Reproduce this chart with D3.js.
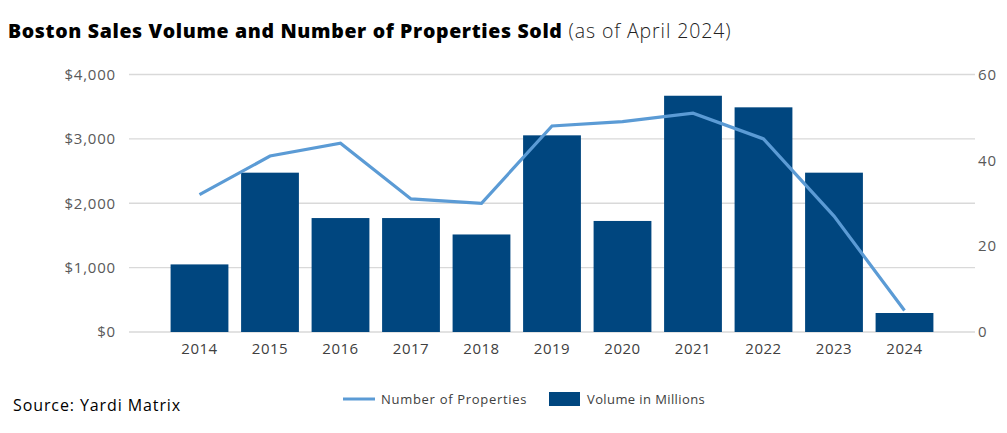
<!DOCTYPE html>
<html>
<head>
<meta charset="utf-8">
<script src="https://cdn.jsdelivr.net/npm/d3@7"></script>
<style>
  body { margin: 0; background: #fff; }
  text { font-family: "Open Sans", Lato, sans-serif; }
</style>
</head>
<body>
<div id="chart"></div>
<script>
// chart data
const years = ["2014", "2015", "2016", "2017", "2018", "2019", "2020", "2021", "2022", "2023", "2024"];
const volume = [1050, 2475, 1770, 1770, 1515, 3055, 1725, 3670, 3490, 2475, 295];
const properties = [32, 41, 44, 31, 30, 48, 49, 51, 45, 27, 5];
const leftTicks = [0, 1000, 2000, 3000, 4000];
const rightTicks = [0, 20, 40, 60];

const width = 1007, height = 433;
const plot = {left: 129, right: 975, top: 74.5, bottom: 332};

const svg = d3.select("#chart")
  .append("svg")
  .attr("width", width)
  .attr("height", height);

const x = d3.scaleBand()
  .domain(years)
  .range([plot.left, plot.right])
  .paddingInner(0.18)
  .paddingOuter(0.59);

const yLeft = d3.scaleLinear().domain([0, 4000]).range([plot.bottom, plot.top]);
const yRight = d3.scaleLinear().domain([0, 60]).range([plot.bottom, plot.top]);

// gridlines
svg.append("g")
  .selectAll("line")
  .data(leftTicks)
  .enter()
  .append("line")
  .attr("x1", plot.left)
  .attr("x2", plot.right)
  .attr("y1", d => yLeft(d))
  .attr("y2", d => yLeft(d))
  .attr("stroke", "#d9d9d9")
  .attr("stroke-width", 1.3);

// left axis
const leftAxis = svg.append("g")
  .attr("transform", `translate(${plot.left - 13},0)`)
  .call(d3.axisLeft(yLeft).tickValues(leftTicks).tickSize(0).tickPadding(0)
    .tickFormat(d => "$" + d3.format(",")(d)));
leftAxis.select(".domain").remove();
leftAxis.selectAll("text").attr("fill", "#595959")
  .style("font-size", "15px").style("letter-spacing", "0.8px");

// right axis
const rightAxis = svg.append("g")
  .attr("transform", `translate(${plot.right + 3},0)`)
  .call(d3.axisRight(yRight).tickValues(rightTicks).tickSize(0).tickPadding(0));
rightAxis.select(".domain").remove();
rightAxis.selectAll("text").attr("fill", "#595959")
  .style("font-size", "15px").style("letter-spacing", "0.8px");

// x axis
const xAxis = svg.append("g")
  .attr("transform", `translate(0,${plot.bottom + 8})`)
  .call(d3.axisBottom(x).tickSize(0).tickPadding(3));
xAxis.select(".domain").remove();
xAxis.selectAll("text").attr("fill", "#404040")
  .style("font-size", "15px").style("letter-spacing", "0.5px");

// bars
svg.append("g")
  .selectAll("rect")
  .data(years)
  .enter()
  .append("rect")
  .attr("x", d => x(d))
  .attr("width", x.bandwidth())
  .attr("y", (d, i) => yLeft(volume[i]))
  .attr("height", (d, i) => yLeft(0) - yLeft(volume[i]))
  .attr("fill", "#00467f");

// line
const line = d3.line()
  .x((d, i) => x(years[i]) + x.bandwidth() / 2)
  .y(d => yRight(d));

svg.append("path")
  .datum(properties)
  .attr("d", line)
  .attr("fill", "none")
  .attr("stroke", "#5b9bd5")
  .attr("stroke-width", 3.2);

// title
const title = svg.append("text")
  .attr("x", 8)
  .attr("y", 38)
  .attr("fill", "#000");
title.append("tspan")
  .style("font-weight", 800)
  .style("font-size", "19.5px")
  .style("letter-spacing", "0.65px")
  .text("Boston Sales Volume and Number of Properties Sold");
title.append("tspan")
  .style("font-size", "19.5px")
  .style("font-weight", 300)
  .style("letter-spacing", "0.9px")
  .attr("fill", "#222")
  .text(" (as of April 2024)");

// legend
const legend = svg.append("g").attr("transform", "translate(0,399)");
legend.append("line")
  .attr("x1", 343).attr("x2", 375)
  .attr("y1", 0).attr("y2", 0)
  .attr("stroke", "#5b9bd5")
  .attr("stroke-width", 3);
legend.append("text")
  .attr("x", 381).attr("y", 4.5)
  .attr("fill", "#404040")
  .style("font-size", "13px")
  .style("letter-spacing", "0.7px")
  .text("Number of Properties");
legend.append("rect")
  .attr("x", 549).attr("y", -7)
  .attr("width", 31).attr("height", 14)
  .attr("fill", "#00467f");
legend.append("text")
  .attr("x", 587).attr("y", 4.5)
  .attr("fill", "#404040")
  .style("font-size", "13px")
  .style("letter-spacing", "0.4px")
  .text("Volume in Millions");

// source
svg.append("text")
  .attr("x", 13)
  .attr("y", 411)
  .attr("fill", "#000")
  .style("font-size", "16px")
  .style("letter-spacing", "0.9px")
  .text("Source: Yardi Matrix");
</script>
</body>
</html>
